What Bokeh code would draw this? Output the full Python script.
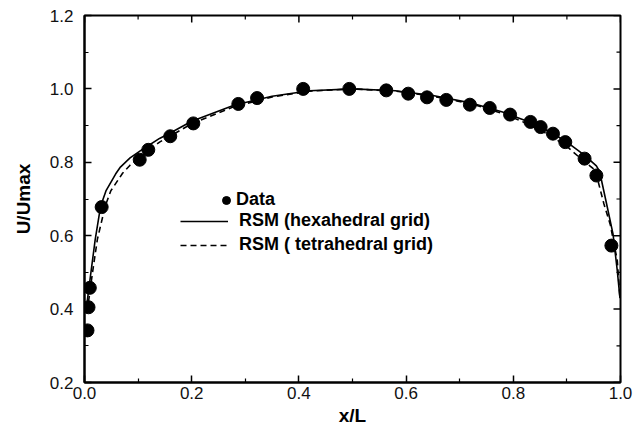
from bokeh.plotting import figure
from bokeh.models import Range1d, FixedTicker, PrintfTickFormatter, Legend, LegendItem
from bokeh.embed import file_html
from bokeh.resources import INLINE

# Measured data
data_x = [0.0056, 0.0075, 0.0099, 0.032, 0.103, 0.119, 0.160, 0.203, 0.287, 0.322, 0.408,
          0.494, 0.563, 0.604, 0.639, 0.675, 0.719, 0.756, 0.794, 0.832, 0.851, 0.874,
          0.897, 0.933, 0.955, 0.983]
data_y = [0.342, 0.405, 0.458, 0.678, 0.807, 0.834, 0.871, 0.906, 0.959, 0.975, 1.0,
          1.0, 0.996, 0.987, 0.977, 0.970, 0.957, 0.948, 0.930, 0.910, 0.896, 0.878,
          0.855, 0.810, 0.764, 0.573]

# RSM hexahedral grid (solid)
hex_x = [0.005, 0.012, 0.020, 0.030, 0.040, 0.058, 0.067, 0.085, 0.108, 0.140, 0.160,
         0.200, 0.280, 0.350, 0.420, 0.500, 0.580, 0.650, 0.720, 0.780, 0.830, 0.870,
         0.900, 0.932, 0.955, 0.961, 0.974, 0.986, 0.994, 0.999]
hex_y = [0.42, 0.50, 0.59, 0.68, 0.722, 0.768, 0.787, 0.812, 0.835, 0.865, 0.880,
         0.912, 0.956, 0.980, 0.995, 1.0, 0.995, 0.982, 0.962, 0.937, 0.910, 0.882,
         0.855, 0.820, 0.790, 0.775, 0.687, 0.605, 0.505, 0.43]

# RSM tetrahedral grid (dashed)
tet_x = [0.0075, 0.015, 0.024, 0.0385, 0.049, 0.071, 0.085, 0.100, 0.140, 0.200, 0.280,
         0.350, 0.420, 0.500, 0.580, 0.650, 0.720, 0.780, 0.830, 0.870, 0.900, 0.930,
         0.953, 0.969, 0.981, 0.994, 0.999]
tet_y = [0.42, 0.50, 0.59, 0.68, 0.722, 0.77, 0.792, 0.81, 0.855, 0.905, 0.952,
         0.978, 0.994, 1.0, 0.994, 0.980, 0.960, 0.933, 0.903, 0.872, 0.843, 0.805,
         0.778, 0.687, 0.630, 0.532, 0.43]

x_ticks = [0.0, 0.2, 0.4, 0.6, 0.8, 1.0]
x_minor = [0.1, 0.3, 0.5, 0.7, 0.9]
y_ticks = [0.2, 0.4, 0.6, 0.8, 1.0, 1.2]
y_minor = [0.3, 0.5, 0.7, 0.9, 1.1]

labels = ["Data", "RSM (hexahedral grid)", "RSM ( tetrahedral grid)"]

FONT = "Liberation Sans"
W, H = 634, 438
BL, BR, BT, BB = 84, 14, 15, 56

p = figure(width=W, height=H, output_backend="svg", toolbar_location=None,
           x_range=Range1d(x_ticks[0], x_ticks[-1]), y_range=Range1d(y_ticks[0], y_ticks[-1]),
           min_border_left=BL, min_border_right=BR, min_border_top=BT, min_border_bottom=BB,
           x_axis_label="x/L", y_axis_label="U/Umax")
p.background_fill_color = "white"
p.border_fill_color = "white"
p.xgrid.visible = False
p.ygrid.visible = False
p.outline_line_color = "black"
p.outline_line_width = 2


def style_axis(ax):
    ax.axis_line_width = 2
    ax.axis_line_color = "black"
    ax.major_tick_in = 7
    ax.major_tick_out = 0
    ax.minor_tick_in = 4
    ax.minor_tick_out = 0
    ax.major_tick_line_width = 1.5
    ax.minor_tick_line_width = 1.2
    ax.major_tick_line_color = "black"
    ax.minor_tick_line_color = "black"
    ax.major_label_text_font = FONT
    ax.major_label_text_color = "#111111"
    ax.major_label_text_font_size = "17px"
    ax.axis_label_text_font = FONT
    ax.axis_label_text_font_style = "bold"
    ax.axis_label_text_font_size = "19px"
    ax.axis_label_text_color = "black"
    ax.formatter = PrintfTickFormatter(format="%.1f")


for ax in p.xaxis:
    ax.ticker = FixedTicker(ticks=x_ticks, minor_ticks=x_minor)
    style_axis(ax)
    ax.major_label_standoff = 4
    ax.axis_label_standoff = 3
for ax in p.yaxis:
    ax.ticker = FixedTicker(ticks=y_ticks, minor_ticks=y_minor)
    style_axis(ax)
    ax.major_label_standoff = 11
    ax.axis_label_standoff = 13

# mirrored inward ticks on the top and right edges (7 px major, 4 px minor)
xmin, xmax = x_ticks[0], x_ticks[-1]
ymin, ymax = y_ticks[0], y_ticks[-1]
px_x = (xmax - xmin) / (W - BL - BR)   # data units per pixel
px_y = (ymax - ymin) / (H - BT - BB)

p.segment(x0=x_ticks, x1=x_ticks, y0=[ymax] * len(x_ticks), y1=[ymax - 7 * px_y] * len(x_ticks),
          line_color="black", line_width=1.5)
p.segment(x0=x_minor, x1=x_minor, y0=[ymax] * len(x_minor), y1=[ymax - 4 * px_y] * len(x_minor),
          line_color="black", line_width=1.2)
p.segment(x0=[xmax] * len(y_ticks), x1=[xmax - 7 * px_x] * len(y_ticks), y0=y_ticks, y1=y_ticks,
          line_color="black", line_width=1.5)
p.segment(x0=[xmax] * len(y_minor), x1=[xmax - 4 * px_x] * len(y_minor), y0=y_minor, y1=y_minor,
          line_color="black", line_width=1.2)

r_hex = p.line(hex_x, hex_y, line_color="black", line_width=1.6)
r_tet = p.line(tet_x, tet_y, line_color="black", line_width=1.6, line_dash="6 4")
r_dat = p.scatter(data_x, data_y, marker="circle", size=13, fill_color="black",
                  line_color="black")


def make_legend(items, loc, gw, standoff, spacing):
    return Legend(items=items, location=loc, glyph_width=gw, glyph_height=20,
                  label_height=20, label_standoff=standoff, spacing=spacing,
                  padding=0, margin=0, border_line_color=None,
                  background_fill_alpha=0,
                  label_text_font=FONT, label_text_font_style="bold",
                  label_text_font_size="18px", label_text_color="black")


leg1 = make_legend([LegendItem(label=labels[0], renderers=[r_dat])], (132, 172), 20, 0, 0)
leg2 = make_legend([LegendItem(label=labels[1], renderers=[r_hex]),
                    LegendItem(label=labels[2], renderers=[r_tet])], (96, 127), 48, 11, 3)
p.add_layout(leg1, "center")
p.add_layout(leg2, "center")

open("out.html", "w").write(file_html(p, INLINE))
